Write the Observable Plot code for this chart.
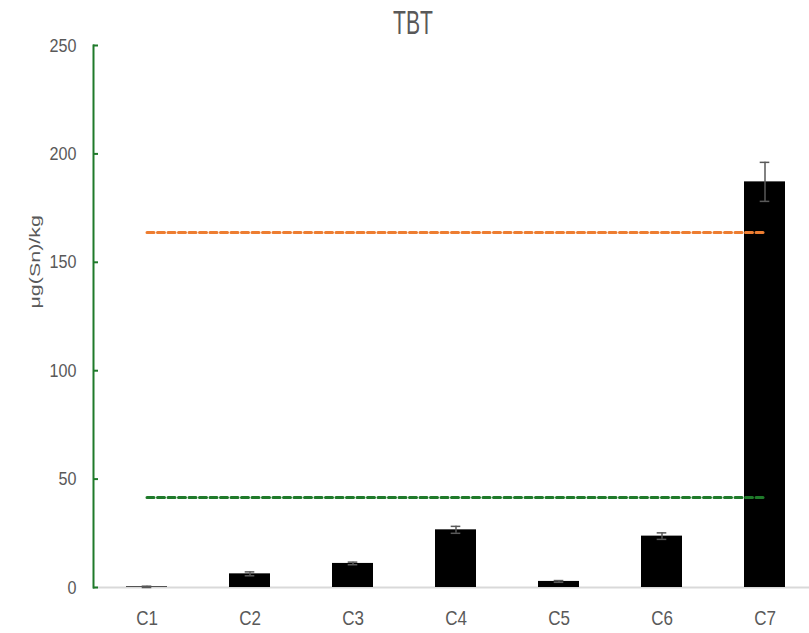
<!DOCTYPE html>
<html><head><meta charset="utf-8">
<script src="https://cdn.jsdelivr.net/npm/d3@7"></script>
<script src="https://cdn.jsdelivr.net/npm/@observablehq/plot@0.6"></script>
<style>
body{margin:0;background:#fff;overflow:hidden}
svg{font-family:"Liberation Sans",Arial,sans-serif}
</style></head><body>
<div id="chart"></div>
<script>
const categories = ["C1","C2","C3","C4","C5","C6","C7"];
const values = [0.3, 6.3, 11.1, 26.6, 2.8, 23.7, 187.1];
const errors = [0.3, 0.9, 0.6, 1.6, 0.4, 1.5, 9.0];
const yTicks = [0, 50, 100, 150, 200, 250];
const upperLimit = 163.7;
const lowerLimit = 41.5;
const title = "TBT";
const yLabel = "μg(Sn)/kg";

const data = categories.map((c, i) => ({c, v: values[i], lo: values[i] - errors[i], hi: values[i] + errors[i]}));
const ends = [categories[0], categories[categories.length - 1]];

const plot = Plot.plot({
  width: 809, height: 633,
  marginTop: 45, marginBottom: 46, marginLeft: 93, marginRight: -9,
  x: {domain: categories, paddingInner: 0.6, paddingOuter: 0.3, label: null},
  y: {domain: [0, 250], label: null},
  style: {color: "#595959", background: "#fff"},
  marks: [
    Plot.ruleY([0], {stroke: "#d9d9d9", strokeWidth: 2}),
    Plot.barY(data, {x: "c", y: "v", fill: "#000"}),
    Plot.ruleX(data, {x: "c", y1: "lo", y2: "hi", stroke: "#595959", strokeWidth: 1.5}),
    Plot.tickY(data, {x: "c", y: "lo", stroke: "#595959", strokeWidth: 1.5, insetLeft: 15.7, insetRight: 15.7}),
    Plot.tickY(data, {x: "c", y: "hi", stroke: "#595959", strokeWidth: 1.5, insetLeft: 15.7, insetRight: 15.7}),
    Plot.lineY(ends.map(c => ({c, y: upperLimit})), {x: "c", y: "y", stroke: "#ED7D31", strokeWidth: 3, strokeDasharray: "7,3.5"}),
    Plot.lineY(ends.map(c => ({c, y: lowerLimit})), {x: "c", y: "y", stroke: "#1f7a2a", strokeWidth: 3, strokeDasharray: "7,3.5"}),
    Plot.axisY({ticks: yTicks, tickSize: 0, tickPadding: 17, fill: "#595959", fontSize: 19}),
    Plot.axisY({ticks: yTicks, tickSize: -5, text: null, stroke: "#1f7a2a", strokeWidth: 2}),
    Plot.frame({anchor: "left", stroke: "#1f7a2a", strokeWidth: 2}),
    Plot.axisX({tickSize: 0, tickPadding: 23, fill: "#595959", fontSize: 20}),
    Plot.text([yLabel], {frameAnchor: "left", dx: -58, dy: -8, rotate: -90, fill: "#595959", fontSize: 15}),
    Plot.text([title], {frameAnchor: "top", dx: -43, dy: -22.5, lineAnchor: "middle", fill: "#595959", fontSize: 33})
  ]
});
document.getElementById("chart").appendChild(plot);

// narrow the text glyphs horizontally to match the condensed look of the original
const svg = d3.select(plot);
svg.selectAll("g[aria-label='y-axis tick label'] text").each(function() {
  const t = this.getAttribute("transform") || "";
  this.setAttribute("transform", t + " scale(0.85,1)");
});
svg.selectAll("g[aria-label='x-axis tick label'] text").each(function() {
  const t = this.getAttribute("transform") || "";
  this.setAttribute("transform", t + " scale(0.85,1)");
});
svg.selectAll("g[aria-label='text'] text").each(function() {
  const t = this.getAttribute("transform") || "";
  const s = this.textContent === title ? " scale(0.64,1)" : " scale(1.43,1)";
  this.setAttribute("transform", t + s);
});
</script></body></html>
